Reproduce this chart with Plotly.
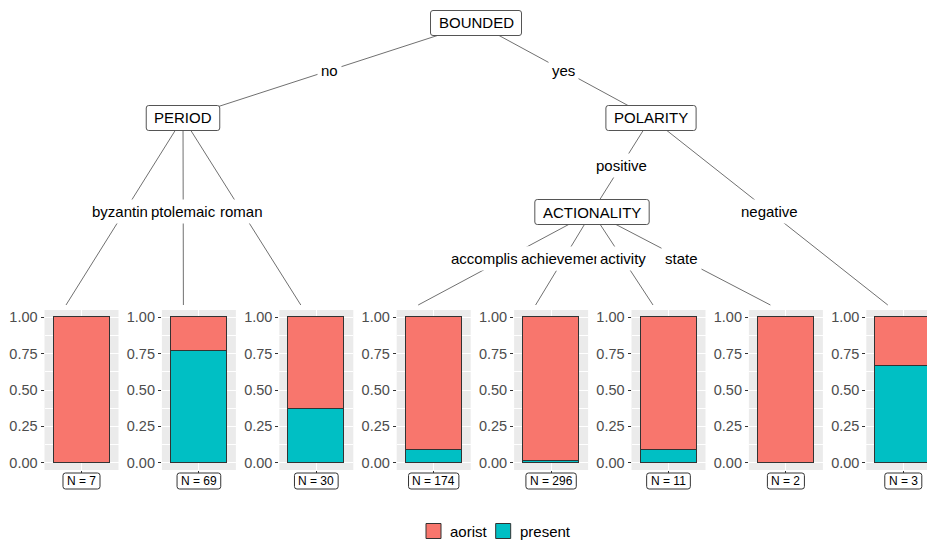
import plotly.graph_objects as go

W, H = 927, 542

# ---- leaf data: one stacked proportion bar per terminal node ----
leaf_labels = ["byzantine", "ptolemaic", "roman", "accomplishment",
               "achievement", "activity", "state", "negative"]
leaf_n = [7, 69, 30, 174, 296, 11, 2, 3]
leaf_present = [0, 53, 11, 15, 3, 1, 0, 2]
classes = ["aorist", "present"]
class_colors = {"aorist": "#F8766D", "present": "#00BFC4"}
y_ticks = [0, 0.25, 0.5, 0.75, 1.0]
y_minor = [0.125, 0.375, 0.625, 0.875]

# ---- tree structure ----
inner_nodes = ["BOUNDED", "PERIOD", "POLARITY", "ACTIONALITY"]
# (parent, child, edge label); child is an inner node name or a leaf index
edges = [
    ("BOUNDED", "PERIOD", "no"),
    ("BOUNDED", "POLARITY", "yes"),
    ("PERIOD", 0, leaf_labels[0]),
    ("PERIOD", 1, leaf_labels[1]),
    ("PERIOD", 2, leaf_labels[2]),
    ("POLARITY", "ACTIONALITY", "positive"),
    ("POLARITY", 7, leaf_labels[7]),
    ("ACTIONALITY", 3, leaf_labels[3]),
    ("ACTIONALITY", 4, leaf_labels[4]),
    ("ACTIONALITY", 5, leaf_labels[5]),
    ("ACTIONALITY", 6, leaf_labels[6]),
]

# ---- layout geometry (pixels) ----
node_pos = {"BOUNDED": (476, 23), "PERIOD": (183, 118),
            "POLARITY": (651, 118), "ACTIONALITY": (592, 212)}
PANEL_LEFT0, PANEL_STEP, PANEL_W = 44.5, 117.4, 74.0
PANEL_TOP, PANEL_BOTTOM = 310, 470
LEAF_ANCHOR_DX, LEAF_ANCHOR_Y = 21.5, 305
X_RANGE = (0.4, 1.6)
LEGEND_X0, LEGEND_Y, LEGEND_KEY = 426, 531, 15
FONT = "Liberation Sans, Arial, sans-serif"

ARIAL_W = {" ": .278, "=": .584, "A": .667, "B": .667, "C": .722, "D": .722,
           "E": .667, "I": .278, "L": .556, "N": .722, "O": .778, "P": .667,
           "R": .722, "T": .611, "U": .722, "Y": .667, "a": .556, "o": .556,
           "r": .333, "i": .222, "s": .5, "t": .278, "p": .556, "e": .556,
           "n": .556}


def text_w(s, size):
    return sum(ARIAL_W.get(c, .556) for c in s) * size


def px(x):
    return x / W


def py(y):
    return 1 - y / H


def rounded_box(x0, y0, x1, y1, r, line_color, fill="white", width=1):
    pts = [
        f"M{px(x0 + r)},{py(y0)}", f"L{px(x1 - r)},{py(y0)}",
        f"Q{px(x1)},{py(y0)} {px(x1)},{py(y0 + r)}", f"L{px(x1)},{py(y1 - r)}",
        f"Q{px(x1)},{py(y1)} {px(x1 - r)},{py(y1)}", f"L{px(x0 + r)},{py(y1)}",
        f"Q{px(x0)},{py(y1)} {px(x0)},{py(y1 - r)}", f"L{px(x0)},{py(y0 + r)}",
        f"Q{px(x0)},{py(y0)} {px(x0 + r)},{py(y0)}", "Z",
    ]
    return dict(type="path", path=" ".join(pts), xref="paper", yref="paper",
                line=dict(color=line_color, width=width), fillcolor=fill,
                layer="above")


def label(x, y, text, size, xanchor="center", **kw):
    return dict(x=px(x), y=py(y), xref="paper", yref="paper", text=text,
                showarrow=False, xanchor=xanchor, yanchor="middle",
                font=dict(family=FONT, size=size, color="black"), **kw)


fig = go.Figure()
layout_axes = {}
shapes = []
annotations = []

y_dom = [py(PANEL_BOTTOM), py(PANEL_TOP)]
leaf_anchor = []

for k in range(len(leaf_labels)):
    sfx = "" if k == 0 else str(k + 1)
    left = PANEL_LEFT0 + k * PANEL_STEP
    right = left + PANEL_W
    xr = list(X_RANGE)
    if right > W:  # last panel runs off the page edge
        xr[1] = X_RANGE[0] + (X_RANGE[1] - X_RANGE[0]) * (W - left) / PANEL_W
        right = W
    leaf_anchor.append((left + LEAF_ANCHOR_DX, LEAF_ANCHOR_Y))

    p_present = leaf_present[k] / leaf_n[k]
    vals = {"present": p_present, "aorist": 1 - p_present}
    for cls in ["present", "aorist"]:
        fig.add_trace(go.Bar(
            x=[1], y=[vals[cls]], width=0.9, name=cls,
            marker=dict(color=class_colors[cls], line=dict(color="#333333", width=1)),
            xaxis="x" + sfx, yaxis="y" + sfx, legendgroup=cls, showlegend=False,
            hovertemplate=f"{leaf_labels[k]}<br>{cls}: %{{y:.3f}}<extra></extra>",
        ))

    layout_axes["xaxis" + sfx] = dict(
        domain=[px(left), px(right)], range=xr, anchor="y" + sfx,
        tickvals=[1], showticklabels=False, ticks="outside", ticklen=3,
        tickcolor="#333333", showgrid=True, gridcolor="white", gridwidth=1.1,
        zeroline=False, showline=False, fixedrange=True,
    )
    layout_axes["yaxis" + sfx] = dict(
        domain=y_dom, range=[-0.05, 1.05], anchor="x" + sfx,
        tickvals=y_ticks, tickformat=".2f", ticks="outside", ticklen=3,
        tickcolor="#333333", tickfont=dict(family=FONT, size=14.5, color="#4D4D4D"),
        showgrid=True, gridcolor="white", gridwidth=1.1, zeroline=False,
        showline=False, fixedrange=True,
        minor=dict(tickvals=y_minor, showgrid=True, gridcolor="white",
                   gridwidth=0.5, ticks=""),
    )

    # N label under each panel
    cx = left + PANEL_W / 2
    lab = f"N = {leaf_n[k]}"
    bw = text_w(lab, 12) + 8
    shapes.append(rounded_box(cx - bw / 2, 473, cx + bw / 2, 489, 2.5, "#333333"))
    annotations.append(label(cx, 481, lab, 12))


def pos_of(node):
    return leaf_anchor[node] if isinstance(node, int) else node_pos[node]


# edges
for parent, child, _ in edges:
    (x0, y0), (x1, y1) = pos_of(parent), pos_of(child)
    shapes.append(dict(type="line", xref="paper", yref="paper",
                       x0=px(x0), y0=py(y0), x1=px(x1), y1=py(y1),
                       line=dict(color="#707070", width=1), layer="above"))

# inner node boxes
for name in inner_nodes:
    cx, cy = node_pos[name]
    bw = text_w(name, 15) + 16
    shapes.append(rounded_box(cx - bw / 2, cy - 12.5, cx + bw / 2, cy + 12.5,
                              2.5, "#555555"))
    annotations.append(label(cx, cy, name, 15))

# edge labels at midpoints, drawn in order so later labels sit on top
for parent, child, lab in edges:
    (x0, y0), (x1, y1) = pos_of(parent), pos_of(child)
    annotations.append(label((x0 + x1) / 2, (y0 + y1) / 2, lab, 15,
                             bgcolor="white", borderpad=3))

# fill legend: coloured keys with class names, laid out left to right
lx = LEGEND_X0
for cls in classes:
    shapes.append(dict(type="rect", xref="paper", yref="paper",
                       x0=px(lx), x1=px(lx + LEGEND_KEY),
                       y0=py(LEGEND_Y - LEGEND_KEY / 2), y1=py(LEGEND_Y + LEGEND_KEY / 2),
                       fillcolor=class_colors[cls],
                       line=dict(color="#333333", width=1), layer="above"))
    annotations.append(label(lx + LEGEND_KEY + 7, LEGEND_Y, cls, 15, xanchor="left"))
    lx += LEGEND_KEY + 7 + text_w(cls, 15) + 11

fig.update_layout(
    width=W, height=H,
    margin=dict(l=0, r=0, t=0, b=0, autoexpand=False),
    paper_bgcolor="white", plot_bgcolor="#EBEBEB", barmode="stack",
    bargap=0, shapes=shapes, annotations=annotations,
    font=dict(family=FONT, color="black"), showlegend=False,
    **layout_axes,
)

fig.write_html("out.html")
